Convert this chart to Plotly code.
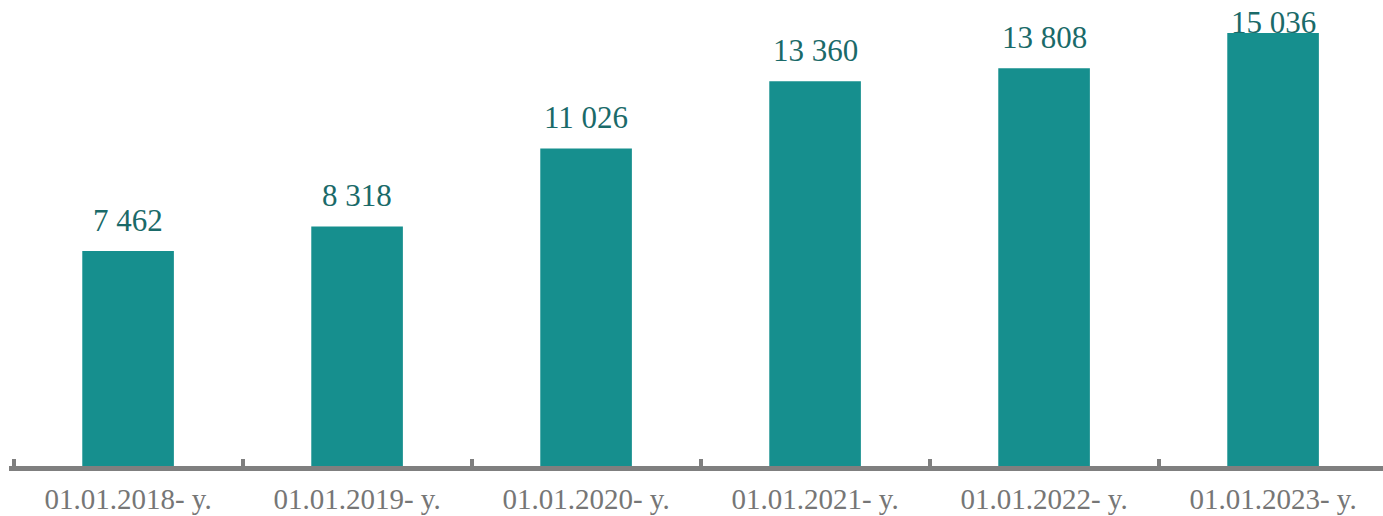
import plotly.graph_objects as go

categories = ["01.01.2018- y.", "01.01.2019- y.", "01.01.2020- y.",
              "01.01.2021- y.", "01.01.2022- y.", "01.01.2023- y."]
values = [7462, 8318, 11026, 13360, 13808, 15036]

BAR = "#168f8e"
LABEL = "#1a6a69"
AXIS = "#7f7f7f"
FONT = "Liberation Serif"

YMAX = 16180

def fmt(v):
    return f"{v:,}".replace(",", " ")

fig = go.Figure(go.Bar(x=categories, y=values, marker_color=BAR,
                       marker_line_width=0, width=0.4))

anns = []
for c, v in zip(categories, values):
    if v > YMAX * 0.9:
        anns.append(dict(x=c, y=1, xref="x", yref="paper", yanchor="top",
                         text=fmt(v), showarrow=False, yshift=-3,
                         font=dict(family=FONT, size=31, color=LABEL)))
    else:
        anns.append(dict(x=c, y=v, xref="x", yref="y", yanchor="bottom",
                         text=fmt(v), showarrow=False, yshift=11,
                         font=dict(family=FONT, size=31, color=LABEL)))

fig.update_layout(
    width=1383, height=516,
    margin=dict(l=9, r=0, t=0, b=50, autoexpand=False),
    plot_bgcolor="white", paper_bgcolor="white",
    showlegend=False,
    annotations=anns,
    xaxis=dict(type="category", range=[-0.52, 5.48], automargin=False,
               showline=True, linecolor=AXIS, linewidth=5,
               ticks="inside", tickson="boundaries", ticklen=7,
               tickwidth=4, tickcolor=AXIS, showgrid=False,
               ticklabelstandoff=3,
               tickfont=dict(family=FONT, size=29, color="#767676")),
    yaxis=dict(range=[0, YMAX], visible=False, showgrid=False,
               zeroline=False),
)

fig.write_html("out.html", config={"displayModeBar": False},
               post_script="document.body.style.margin='0';document.body.style.overflow='hidden';")
